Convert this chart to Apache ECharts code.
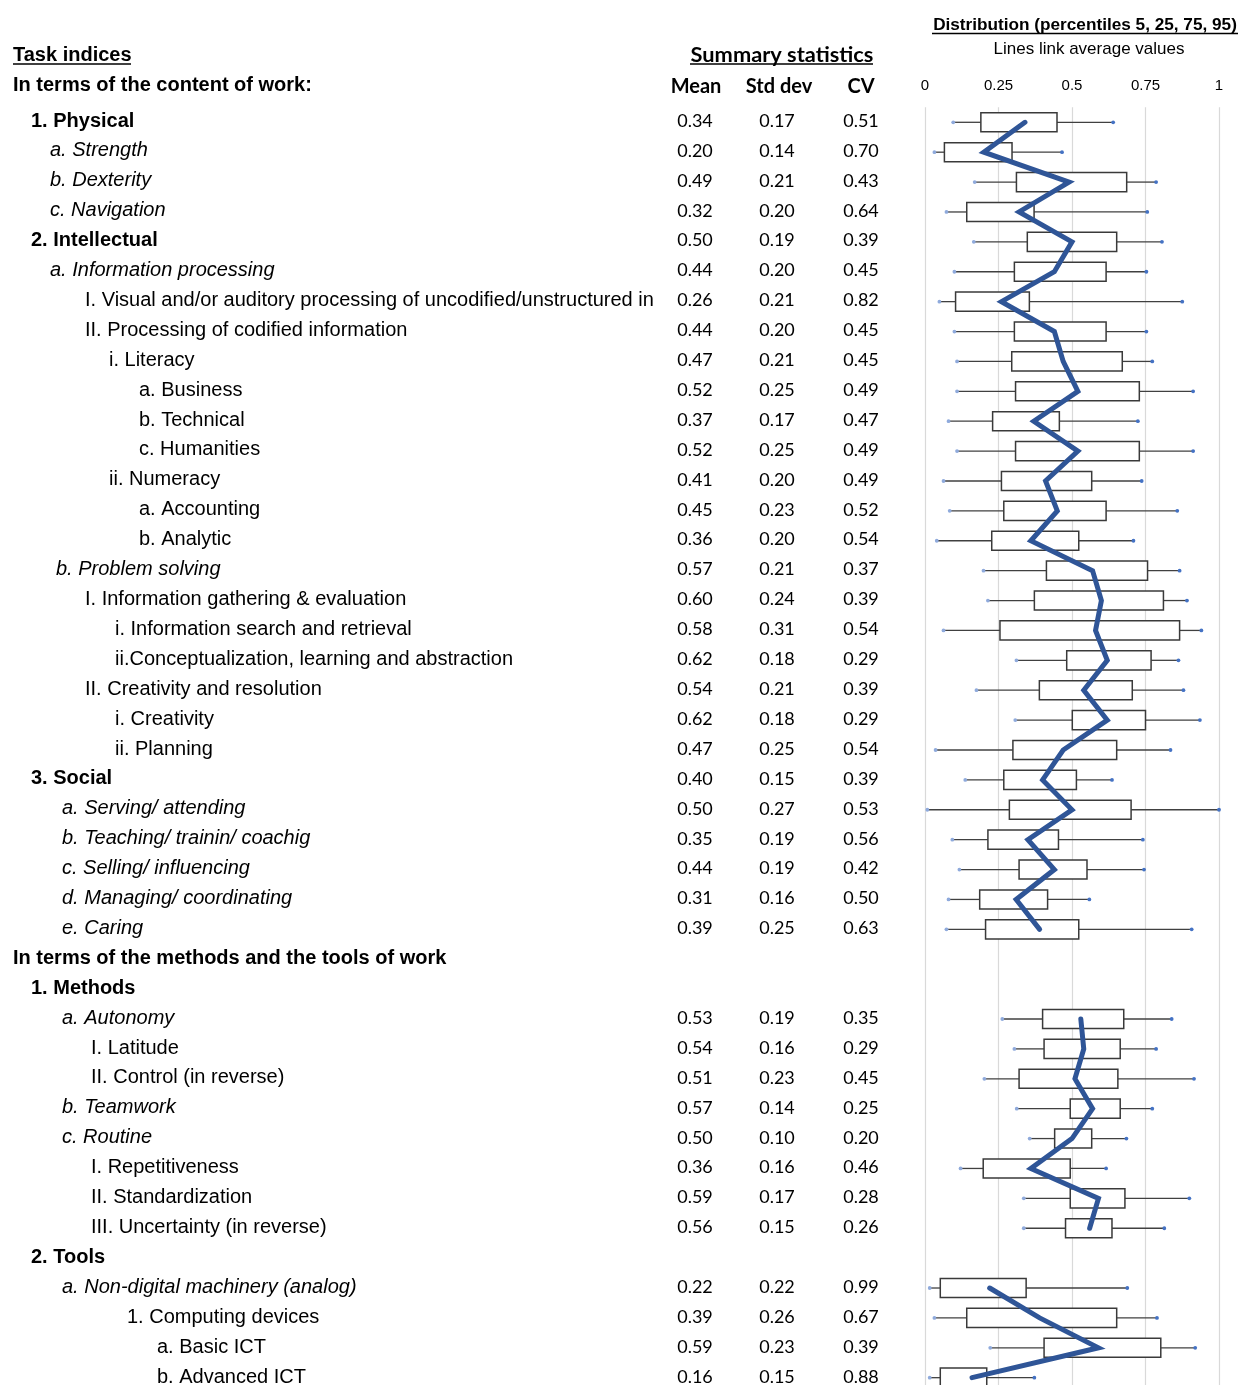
<!DOCTYPE html>
<html>
<head>
<meta charset="utf-8">
<script src="https://cdn.jsdelivr.net/npm/echarts@6.0.0/dist/echarts.min.js"></script>
<style>
  html, body { margin: 0; padding: 0; background: #ffffff; overflow: hidden; }
  #chart { width: 1239px; height: 1385px; }
</style>
</head>
<body>
<div id="chart"></div>
<script>
// ---------- DATA ----------
const labels = [
  '1. Physical', 'a. Strength', 'b. Dexterity', 'c. Navigation',
  '2. Intellectual', 'a. Information processing',
  'I. Visual and/or auditory processing of uncodified/unstructured information',
  'II. Processing of codified information', 'i. Literacy', 'a. Business', 'b. Technical', 'c. Humanities',
  'ii. Numeracy', 'a. Accounting', 'b. Analytic',
  'b. Problem solving', 'I. Information gathering & evaluation', 'i. Information search and retrieval',
  'ii.Conceptualization, learning and abstraction', 'II. Creativity and resolution', 'i. Creativity', 'ii. Planning',
  '3. Social', 'a. Serving/ attending', 'b. Teaching/ trainin/ coachig', 'c. Selling/ influencing',
  'd. Managing/ coordinating', 'e. Caring',
  'In terms of the methods and the tools of work',
  '1. Methods', 'a. Autonomy', 'I. Latitude', 'II. Control (in reverse)', 'b. Teamwork', 'c. Routine',
  'I. Repetitiveness', 'II. Standardization', 'III. Uncertainty (in reverse)',
  '2. Tools', 'a. Non-digital machinery (analog)', '1. Computing devices', 'a. Basic ICT', 'b. Advanced ICT'
];
// outline level of each row (mapped to typography in code)
const levels = [
  'dim', 'subA', 'subA', 'subA',
  'dim', 'subA',
  'r1',
  'r1', 'r3', 'r5', 'r5', 'r5',
  'r3', 'r5', 'r5',
  'subB', 'r1', 'r4',
  'r4', 'r1', 'r4', 'r4',
  'dim', 'subC', 'subC', 'subC',
  'subC', 'subC',
  'sec',
  'dim', 'subC', 'r2', 'r2', 'subC', 'subC',
  'r2', 'r2', 'r2',
  'dim', 'subC', 'r6', 'r7', 'r7'
];
const means = [0.34,0.20,0.49,0.32,0.50,0.44,0.26,0.44,0.47,0.52,0.37,0.52,0.41,0.45,0.36,0.57,0.60,0.58,0.62,0.54,0.62,0.47,
  0.40,0.50,0.35,0.44,0.31,0.39,null,null,0.53,0.54,0.51,0.57,0.50,0.36,0.59,0.56,null,0.22,0.39,0.59,0.16];
const stdDevs = [0.17,0.14,0.21,0.20,0.19,0.20,0.21,0.20,0.21,0.25,0.17,0.25,0.20,0.23,0.20,0.21,0.24,0.31,0.18,0.21,0.18,0.25,
  0.15,0.27,0.19,0.19,0.16,0.25,null,null,0.19,0.16,0.23,0.14,0.10,0.16,0.17,0.15,null,0.22,0.26,0.23,0.15];
const cvs = [0.51,0.70,0.43,0.64,0.39,0.45,0.82,0.45,0.45,0.49,0.47,0.49,0.49,0.52,0.54,0.37,0.39,0.54,0.29,0.39,0.29,0.54,
  0.39,0.53,0.56,0.42,0.50,0.63,null,null,0.35,0.29,0.45,0.25,0.20,0.46,0.28,0.26,null,0.99,0.67,0.39,0.88];
const p5 = [0.096,0.032,0.169,0.073,0.166,0.100,0.049,0.100,0.109,0.109,0.080,0.109,0.063,0.084,0.040,0.199,0.214,0.063,0.311,0.175,0.307,0.036,
  0.137,0.008,0.093,0.117,0.080,0.073,null,null,0.263,0.304,0.202,0.312,0.356,0.121,0.336,0.336,null,0.016,0.032,0.222,0.016];
const p25 = [0.190,0.066,0.311,0.142,0.348,0.304,0.104,0.304,0.295,0.308,0.230,0.308,0.260,0.268,0.227,0.413,0.372,0.255,0.482,0.389,0.501,0.299,
  0.268,0.287,0.214,0.320,0.186,0.206,null,null,0.400,0.405,0.320,0.494,0.441,0.198,0.494,0.478,null,0.052,0.142,0.405,0.052];
const p75 = [0.449,0.296,0.686,0.371,0.652,0.616,0.355,0.616,0.671,0.729,0.457,0.729,0.567,0.616,0.523,0.757,0.811,0.866,0.769,0.705,0.750,0.652,
  0.515,0.701,0.454,0.551,0.417,0.523,null,null,0.676,0.664,0.656,0.664,0.567,0.494,0.680,0.636,null,0.344,0.652,0.802,0.210];
const p95 = [0.640,0.466,0.786,0.756,0.806,0.753,0.875,0.753,0.773,0.912,0.724,0.912,0.737,0.858,0.709,0.866,0.891,0.940,0.862,0.879,0.935,0.835,
  0.636,1.000,0.741,0.745,0.559,0.907,null,null,0.839,0.786,0.915,0.773,0.685,0.616,0.899,0.814,null,0.688,0.789,0.919,0.372];
const xTicks = [0, 0.25, 0.5, 0.75, 1];
const headerTexts = {
  tasks: 'Task indices',
  content: 'In terms of the content of work:',
  summary: 'Summary statistics',
  mean: 'Mean', std: 'Std dev', cv: 'CV',
  dist: 'Distribution (percentiles 5, 25, 75, 95)',
  sub: 'Lines link average values'
};

// ---------- LAYOUT / STYLE ----------
const W = 1239, H = 1385;
const ARIAL = '"Liberation Sans", Arial, Helvetica, sans-serif';
const CALI = 'Lato, "Open Sans", sans-serif';
const N = labels.length;
const BAND = 29.89;                 // px per row
const BOX_ROW0 = 122.3;             // centre of first box row
const BOX_TOP = BOX_ROW0 - BAND / 2;
const NUM_ROW0 = 121.0;             // first number row (axis origin)
const NAME_ROW0 = 121.0;            // first task-name row (axis origin)
const TEXT_BAND = 29.905;
const TEXT_LEFT = 13;
const levelStyle = {
  sec:  { indent: 13,  weight: 'bold',   style: 'normal' },
  dim:  { indent: 31,  weight: 'bold',   style: 'normal' },
  subA: { indent: 50,  weight: 'normal', style: 'italic' },
  subB: { indent: 56,  weight: 'normal', style: 'italic' },
  subC: { indent: 62,  weight: 'normal', style: 'italic' },
  r1:   { indent: 85,  weight: 'normal', style: 'normal' },
  r2:   { indent: 91,  weight: 'normal', style: 'normal' },
  r3:   { indent: 109, weight: 'normal', style: 'normal' },
  r4:   { indent: 115, weight: 'normal', style: 'normal' },
  r5:   { indent: 139, weight: 'normal', style: 'normal' },
  r6:   { indent: 127, weight: 'normal', style: 'normal' },
  r7:   { indent: 157, weight: 'normal', style: 'normal' }
};
const rich = {};
Object.keys(levelStyle).forEach(k => {
  const s = levelStyle[k];
  rich[k] = {
    fontFamily: ARIAL, fontSize: 20, fontWeight: s.weight, fontStyle: s.style,
    color: '#000', padding: [0, 0, 0, s.indent - TEXT_LEFT]
  };
});

const rowIdx = v => (Math.abs(v - Math.round(v)) < 1e-6 ? Math.round(v) : -1);
const fmt2 = arr => v => {
  const i = rowIdx(v);
  return (i < 0 || i >= N || arr[i] == null) ? '' : arr[i].toFixed(2);
};

const boxData = [];
for (let i = 0; i < N; i++) {
  if (p5[i] != null) boxData.push([i, p5[i], p25[i], p75[i], p95[i]]);
}
const lineData = means.map((m, i) => [m == null ? '-' : m, i]);

function renderBox(params, api) {
  const row = api.value(0);
  const a = api.coord([api.value(1), row]);
  const b = api.coord([api.value(2), row]);
  const c = api.coord([api.value(3), row]);
  const d = api.coord([api.value(4), row]);
  const band = Math.abs(api.size([0, 1])[1]);
  const h = band * 0.64;
  const y = a[1];
  const wStyle = { stroke: '#404040', lineWidth: 1.3 };
  return {
    type: 'group',
    children: [
      { type: 'line', shape: { x1: a[0], y1: y, x2: b[0], y2: y }, style: wStyle },
      { type: 'line', shape: { x1: c[0], y1: y, x2: d[0], y2: y }, style: wStyle },
      { type: 'rect', shape: { x: b[0], y: y - h / 2, width: c[0] - b[0], height: h },
        style: { fill: '#ffffff', stroke: '#3a3a3a', lineWidth: 1.5 } },
      { type: 'circle', shape: { cx: a[0], cy: y, r: 1.9 }, style: { fill: '#8faadc' } },
      { type: 'circle', shape: { cx: d[0], cy: y, r: 1.9 }, style: { fill: '#4472c4' } }
    ]
  };
}

const boxMax = -0.5 + (H - BOX_TOP) / BAND;

function rowGrid(left, top, width) {
  return { left: left, top: top, width: width, bottom: 0, outerBoundsMode: 'none', containLabel: false };
}
function hiddenX(idx) {
  return { type: 'value', gridIndex: idx, show: false };
}
function rowAxis(idx, top, labelOpts) {
  return {
    type: 'value', gridIndex: idx, inverse: true, min: 0, max: (H - top) / TEXT_BAND, interval: 1,
    position: 'left',
    axisLine: { show: false }, axisTick: { show: false }, splitLine: { show: false },
    axisLabel: Object.assign({ show: true, showMinLabel: true, showMaxLabel: true, margin: 0, hideOverlap: false }, labelOpts)
  };
}

const chart = echarts.init(document.getElementById('chart'), null, { renderer: 'canvas', width: W, height: H });

function gText(x, y, text, opts) {
  return {
    type: 'text', x: x, y: y, silent: true,
    style: Object.assign({
      text: text, fill: '#000', fontFamily: ARIAL, fontSize: 20,
      align: 'left', verticalAlign: 'middle', textAlign: 'left', textVerticalAlign: 'middle'
    }, opts || {})
  };
}
function gLine(x1, x2, y) {
  return { type: 'line', silent: true, shape: { x1: x1, y1: y, x2: x2, y2: y }, style: { stroke: '#000', lineWidth: 1.5 } };
}
const centred = { align: 'center', textAlign: 'center' };

chart.setOption({
  animation: false,
  backgroundColor: '#ffffff',
  grid: [
    rowGrid(925, BOX_TOP, 294),
    rowGrid(TEXT_LEFT, NAME_ROW0, 600),
    rowGrid(695, NUM_ROW0, 1),
    rowGrid(777, NUM_ROW0, 1),
    rowGrid(861, NUM_ROW0, 1)
  ],
  xAxis: [
    {
      type: 'value', gridIndex: 0, position: 'top',
      min: xTicks[0], max: xTicks[xTicks.length - 1], interval: xTicks[1] - xTicks[0],
      axisLine: { show: false }, axisTick: { show: false },
      splitLine: { show: true, lineStyle: { color: '#d9d9d9', width: 1.2 } },
      axisLabel: { margin: 14, fontFamily: ARIAL, fontSize: 15, color: '#000',
        formatter: v => String(xTicks.find(t => Math.abs(t - v) < 1e-9) ?? v) }
    },
    hiddenX(1), hiddenX(2), hiddenX(3), hiddenX(4)
  ],
  yAxis: [
    { type: 'value', gridIndex: 0, inverse: true, min: -0.5, max: boxMax, show: false },
    rowAxis(1, NAME_ROW0, {
      align: 'left', width: 644, overflow: 'truncate', ellipsis: '',
      rich: rich,
      formatter: v => {
        const i = rowIdx(v);
        return (i < 0 || i >= N) ? '' : '{' + levels[i] + '|' + labels[i] + '}';
      }
    }),
    rowAxis(2, NUM_ROW0, { align: 'center', fontFamily: CALI, fontSize: 18, color: '#000', formatter: fmt2(means) }),
    rowAxis(3, NUM_ROW0, { align: 'center', fontFamily: CALI, fontSize: 18, color: '#000', formatter: fmt2(stdDevs) }),
    rowAxis(4, NUM_ROW0, { align: 'center', fontFamily: CALI, fontSize: 18, color: '#000', formatter: fmt2(cvs) })
  ],
  series: [
    {
      type: 'custom', xAxisIndex: 0, yAxisIndex: 0, z: 2,
      renderItem: renderBox,
      encode: { y: 0, x: [1, 2, 3, 4] },
      data: boxData
    },
    {
      type: 'line', xAxisIndex: 0, yAxisIndex: 0, z: 5,
      data: lineData, symbol: 'none', connectNulls: false,
      lineStyle: { color: '#2f5597', width: 5, join: 'miter', cap: 'round' }
    }
  ],
  graphic: [
    gText(1085, 25, headerTexts.dist, Object.assign({ fontWeight: 'bold', fontSize: 17.2 }, centred)),
    gLine(932, 1238, 33.5),
    gText(1089, 49, headerTexts.sub, Object.assign({ fontSize: 17 }, centred)),
    gText(13, 55, headerTexts.tasks, { fontWeight: 'bold' }),
    gLine(13, 131, 64),
    gText(782, 55, headerTexts.summary, Object.assign({ fontFamily: CALI, fontWeight: 'bold', fontSize: 21.8 }, centred)),
    gLine(690, 873, 64),
    gText(13, 85, headerTexts.content, { fontWeight: 'bold' }),
    gText(696, 87, headerTexts.mean, Object.assign({ fontFamily: CALI, fontWeight: 'bold', fontSize: 20 }, centred)),
    gText(779, 87, headerTexts.std, Object.assign({ fontFamily: CALI, fontWeight: 'bold', fontSize: 20 }, centred)),
    gText(861, 87, headerTexts.cv, Object.assign({ fontFamily: CALI, fontWeight: 'bold', fontSize: 20 }, centred))
  ]
});
</script>
</body>
</html>
